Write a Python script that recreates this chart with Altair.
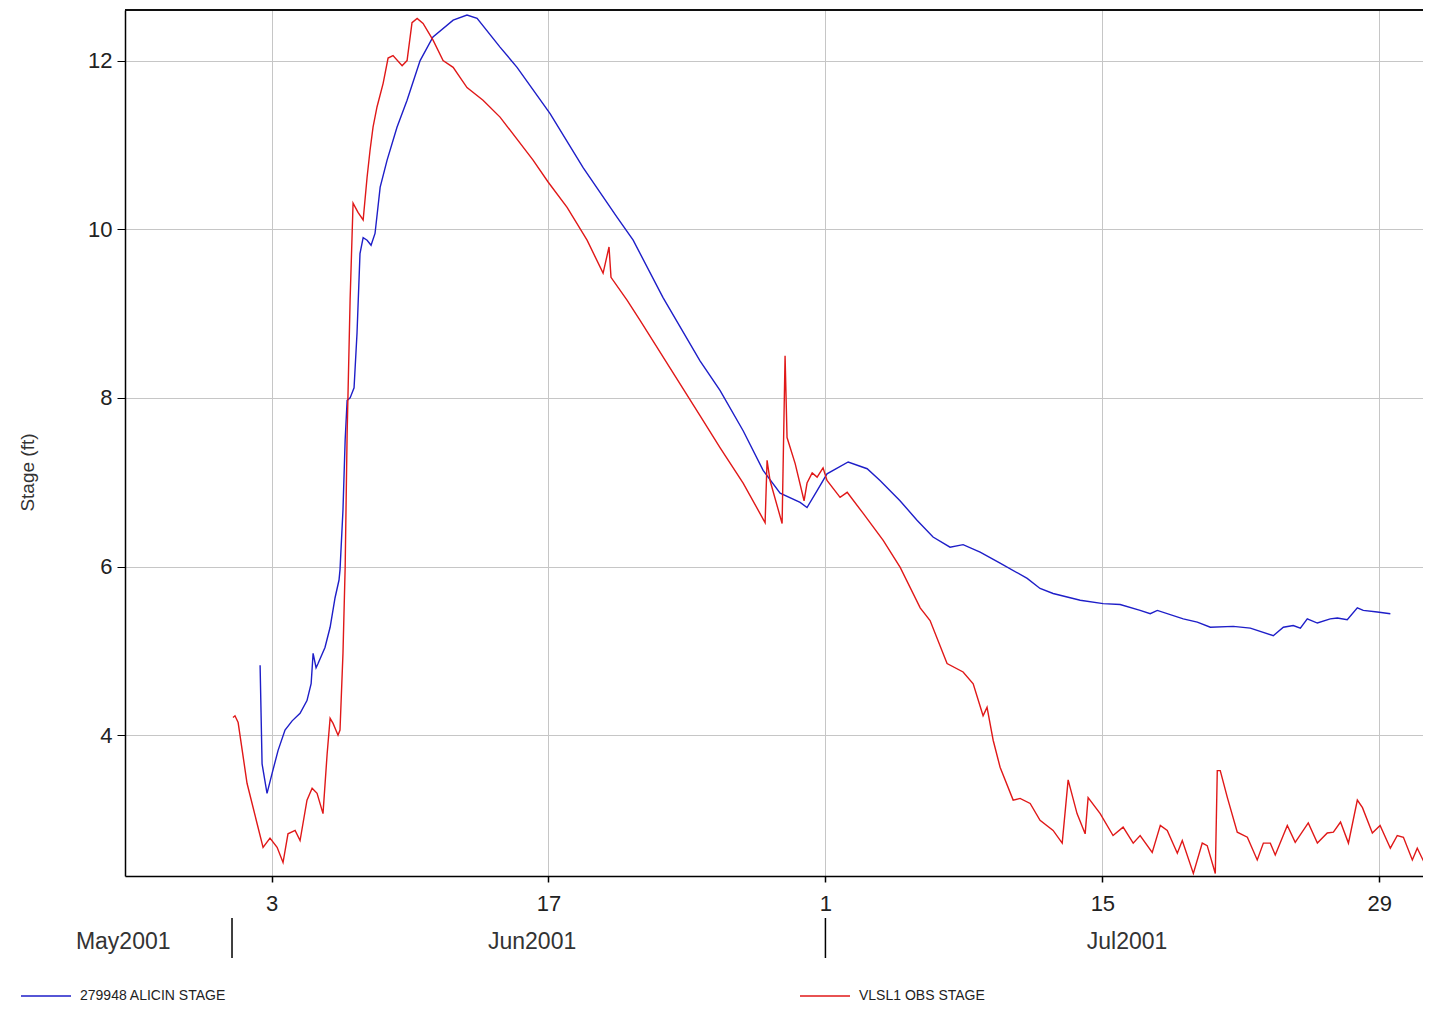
import altair as alt
import pandas as pd

BASE = pd.Timestamp("2001-05-01")

# ---- data (days since 2001-05-01, stage in ft) ----
blue_days = [
    32.42, 32.52, 32.77, 33.03, 33.33, 33.68, 34.04, 34.44, 34.79, 35.00,
    35.10, 35.25, 35.35, 35.70, 35.96, 36.21, 36.41, 36.46, 36.61, 36.72,
    36.82, 36.97, 37.17, 37.32, 37.47, 37.63, 37.83, 38.03, 38.23, 38.49,
    38.84, 39.34, 39.85, 40.51, 41.16, 42.18, 42.88, 43.39, 44.55, 45.41,
    47.08, 48.75, 50.47, 51.28, 52.79, 54.66, 55.67, 56.84, 57.85, 58.71,
    59.72, 60.07, 60.58, 61.08, 62.15, 63.11, 63.76, 64.77, 65.63, 66.44,
    67.30, 67.96, 68.82, 69.83, 71.20, 71.85, 72.51, 73.88, 75.04, 75.90,
    76.91, 77.42, 77.78, 79.09, 79.80, 80.46, 81.62, 82.48, 83.64, 84.15,
    84.65, 85.01, 85.36, 85.87, 86.52, 86.88, 87.38, 87.89, 88.19, 88.90,
    89.56,
]
blue_stage = [
    4.83, 3.66, 3.31, 3.55, 3.82, 4.06, 4.17, 4.26, 4.41, 4.61,
    4.97, 4.80, 4.85, 5.04, 5.28, 5.63, 5.84, 5.96, 6.67, 7.50,
    7.97, 8.00, 8.12, 8.77, 9.71, 9.90, 9.87, 9.81, 9.95, 10.50,
    10.82, 11.21, 11.53, 12.00, 12.28, 12.48, 12.54, 12.50, 12.16, 11.92,
    11.37, 10.73, 10.14, 9.87, 9.19, 8.44, 8.09, 7.61, 7.14, 6.87,
    6.76, 6.70, 6.90, 7.10, 7.24, 7.16, 7.02, 6.78, 6.55, 6.35,
    6.23, 6.26, 6.17, 6.04, 5.86, 5.74, 5.68, 5.60, 5.56, 5.55,
    5.48, 5.44, 5.48, 5.38, 5.34, 5.28, 5.29, 5.27, 5.18, 5.28,
    5.30, 5.27, 5.38, 5.33, 5.38, 5.39, 5.37, 5.51, 5.48, 5.46,
    5.44,
]
red_days = [
    31.05, 31.15, 31.31, 31.76, 32.27, 32.57, 32.92, 33.28, 33.58, 33.83,
    34.19, 34.44, 34.79, 35.05, 35.30, 35.60, 35.81, 35.96, 36.11, 36.36,
    36.46, 36.61, 36.72, 36.82, 36.97, 37.12, 37.37, 37.63, 37.83, 37.98,
    38.13, 38.33, 38.64, 38.89, 39.14, 39.60, 39.85, 40.10, 40.36, 40.66,
    41.17, 41.67, 42.18, 42.88, 43.69, 44.55, 46.22, 46.98, 47.94, 48.95,
    49.76, 50.06, 50.16, 50.97, 51.63, 54.66, 55.67, 56.84, 57.95, 58.05,
    58.20, 58.81, 58.96, 59.06, 59.47, 59.92, 60.07, 60.33, 60.58, 60.88,
    61.08, 61.74, 62.10, 62.91, 63.92, 64.78, 65.79, 66.29, 67.15, 67.96,
    68.47, 68.97, 69.17, 69.48, 69.83, 70.49, 70.84, 71.35, 71.85, 72.51,
    72.97, 73.27, 73.72, 74.13, 74.28, 74.89, 75.54, 76.05, 76.56, 76.91,
    77.52, 77.93, 78.28, 78.79, 79.04, 79.60, 80.05, 80.30, 80.71, 80.81,
    80.96, 81.32, 81.82, 82.33, 82.83, 83.14, 83.49, 83.74, 84.35, 84.75,
    85.41, 85.87, 86.37, 86.68, 87.04, 87.44, 87.89, 88.15, 88.65, 89.04,
    89.56, 89.91, 90.22, 90.67, 90.92, 91.58, 92.00,
]
red_stage = [
    4.21, 4.23, 4.15, 3.43, 2.95, 2.67, 2.78, 2.67, 2.49, 2.83,
    2.87, 2.75, 3.23, 3.37, 3.31, 3.07, 3.78, 4.20, 4.14, 4.00,
    4.06, 4.97, 5.99, 7.58, 9.16, 10.31, 10.20, 10.11, 10.62, 10.94,
    11.21, 11.45, 11.73, 12.03, 12.06, 11.94, 12.00, 12.45, 12.50, 12.44,
    12.24, 12.00, 11.92, 11.68, 11.53, 11.33, 10.82, 10.56, 10.26, 9.87,
    9.48, 9.79, 9.43, 9.16, 8.92, 7.79, 7.41, 6.99, 6.52, 7.26,
    7.02, 6.51, 8.50, 7.53, 7.22, 6.78, 6.99, 7.11, 7.06, 7.17,
    7.02, 6.82, 6.88, 6.63, 6.31, 5.99, 5.51, 5.36, 4.85, 4.75,
    4.61, 4.23, 4.33, 3.94, 3.62, 3.23, 3.25, 3.19, 2.99, 2.87,
    2.72, 3.47, 3.07, 2.83, 3.26, 3.07, 2.81, 2.91, 2.72, 2.81,
    2.61, 2.93, 2.87, 2.60, 2.75, 2.36, 2.72, 2.69, 2.36, 3.58,
    3.58, 3.26, 2.85, 2.79, 2.52, 2.72, 2.72, 2.58, 2.93, 2.73,
    2.96, 2.72, 2.84, 2.85, 2.97, 2.72, 3.23, 3.14, 2.84, 2.93,
    2.66, 2.81, 2.79, 2.52, 2.66, 2.34, 2.20,
]

SERIES = ["279948 ALICIN STAGE", "VLSL1 OBS STAGE"]
COLORS = ["#1e1ec8", "#e01818"]

tick_days = [33, 47, 61, 75, 89]          # Jun 3, Jun 17, Jul 1, Jul 15, Jul 29
y_ticks = [4, 6, 8, 10, 12]
month_labels = ["May2001", "Jun2001", "Jul2001"]
month_label_days = [25.5, 46.17, 76.25]
month_sep_days = [31, 61]                 # Jun 1, Jul 1
x_domain_days = [25.59, 91.21]
y_domain = [2.33, 12.6]


def to_dates(days):
    return [(BASE + pd.Timedelta(days=d)).round("min") for d in days]


def dt(ts):
    return alt.DateTime(year=ts.year, month=ts.month, date=ts.day,
                        hours=ts.hour, minutes=ts.minute)


df = pd.concat([
    pd.DataFrame({"date": to_dates(blue_days), "stage": blue_stage, "series": SERIES[0]}),
    pd.DataFrame({"date": to_dates(red_days), "stage": red_stage, "series": SERIES[1]}),
], ignore_index=True)

labels_df = pd.DataFrame({"date": to_dates(month_label_days), "label": month_labels})
sep_df = pd.DataFrame({"date": to_dates(month_sep_days)})

W, H = 1298, 866
FONT = "Liberation Sans"

x_scale = alt.Scale(domain=[dt(d) for d in to_dates(x_domain_days)])
y_scale = alt.Scale(domain=y_domain, nice=False, zero=False)

x_axis = alt.Axis(
    values=[dt(d) for d in to_dates(tick_days)], format="%-d", title=None,
    grid=True, gridColor="#c6c6c6", gridWidth=1,
    tickSize=6, tickColor="#000", tickWidth=1.5,
    domainColor="#000", domainWidth=1.5,
    labelFontSize=22, labelFont=FONT, labelColor="#222", labelPadding=11,
    labelOverlap=False, labelFlush=False,
)
y_axis = alt.Axis(
    values=y_ticks, title="Stage (ft)",
    grid=True, gridColor="#c6c6c6", gridWidth=1,
    tickSize=8, tickColor="#000", tickWidth=1,
    domainColor="#000", domainWidth=1.5,
    labelFontSize=22, labelFont=FONT, labelColor="#222", labelPadding=5,
    titleFont=FONT, titleFontSize=19, titleFontWeight="normal", titleColor="#333",
    titleX=-98, titleY=462, titleAngle=270, titleAlign="center", titleBaseline="middle",
)

x_enc = alt.X("date:T", scale=x_scale, axis=x_axis)

lines = alt.Chart(df).mark_line(strokeWidth=1.4, clip=True).encode(
    x=x_enc,
    y=alt.Y("stage:Q", scale=y_scale, axis=y_axis),
    color=alt.Color(
        "series:N",
        scale=alt.Scale(domain=SERIES, range=COLORS),
        legend=alt.Legend(
            title=None, orient="none", legendX=-105, legendY=960,
            direction="horizontal", symbolType="stroke", symbolSize=2500,
            symbolStrokeWidth=1.4, labelFontSize=14, labelFont=FONT,
            labelColor="#222", labelOffset=8, columnPadding=570, padding=0,
            labelLimit=400,
        ),
    ),
)

month_text = alt.Chart(labels_df).mark_text(
    fontSize=23, font=FONT, color="#333", align="center", baseline="middle"
).encode(x=x_enc, y=alt.value(H + 66), text="label:N")

seps = alt.Chart(sep_df).mark_rule(color="#000", strokeWidth=1.5).encode(
    x=x_enc, y=alt.value(H + 42), y2=alt.value(H + 82)
)

top_border = alt.Chart(sep_df).mark_rule(color="#000", strokeWidth=1.5).encode(
    x=alt.value(0), x2=alt.value(W), y=alt.value(0)
)

chart = alt.layer(lines, month_text, seps, top_border).properties(
    width=W, height=H,
    autosize=alt.AutoSizeParams(type="none"),
    padding={"left": 117, "top": 2, "right": 0, "bottom": 126},
).configure_view(stroke=None)

chart.save("out.html", embed_options={"renderer": "svg", "actions": False})
